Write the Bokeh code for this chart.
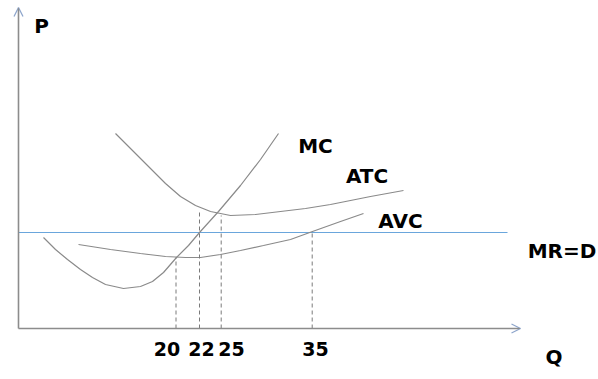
from bokeh.plotting import figure
from bokeh.models import Range1d, Arrow, OpenHead
from bokeh.core.properties import value
from bokeh.embed import file_html
from bokeh.resources import INLINE

# Schematic data (arbitrary Q-P units, origin at axis corner)
mc_q = [25, 37, 49, 62, 74, 87, 105, 122, 134, 145, 158, 170, 181, 200, 222, 242, 260]
mc_p = [91, 79, 69, 59, 51, 44, 40, 42, 47, 56, 71, 83, 96, 117, 143, 169, 195]

atc_q = [97, 115, 132, 147, 162, 177, 192, 212, 237, 262, 287, 312, 332, 352, 385]
atc_p = [195, 177, 160, 145, 132, 123, 117, 113, 114, 117, 120, 124, 128, 132, 138]

avc_q = [60, 92, 122, 147, 167, 182, 202, 222, 245, 272, 294, 322, 345]
avc_p = [84, 79, 75, 72, 71, 71, 74, 78, 83, 89, 97, 107, 115]

mr_q = [0, 489]
mr_p = [96, 96]

mark_q = [157.5, 181, 202.7, 293.7]
mark_top = [71, 118, 113, 96]
mark_labels = ["20", "22", "25", "35"]
mark_label_q = [148.5, 183, 213, 297]

curve_labels = ["MC", "ATC", "AVC", "MR=D"]
curve_label_q = [297, 348.5, 382, 543.5]
curve_label_p = [182.5, 152.5, 107.5, 78]

axis_labels = ["P", "Q"]
axis_label_q = [23, 535.5]
axis_label_p = [302.5, -28.5]

p = figure(width=598, height=379, output_backend="svg", toolbar_location=None,
           x_range=Range1d(-18, 580), y_range=Range1d(-51, 328),
           min_border=0, outline_line_color=None)
p.axis.visible = False
p.grid.visible = False
p.background_fill_color = "white"

curve_color = "#8a8a8a"
p.line(mr_q, mr_p, line_color="#6aa6dc", line_width=1.2)
p.line(mc_q, mc_p, line_color=curve_color, line_width=1.2)
p.line(atc_q, atc_p, line_color=curve_color, line_width=1.2)
p.line(avc_q, avc_p, line_color=curve_color, line_width=1.2)

p.segment(x0=mark_q, y0=[0] * len(mark_q), x1=mark_q, y1=mark_top,
          line_color="#7a7a7a", line_width=1, line_dash="4 3")

# axes with open arrowheads
p.add_layout(Arrow(end=OpenHead(size=9, line_color="#8ea6cc", line_width=1.3),
                   x_start=0, y_start=0, x_end=0, y_end=321,
                   line_color="#8c8c8c", line_width=1.6))
p.add_layout(Arrow(end=OpenHead(size=9, line_color="#8ea6cc", line_width=1.3),
                   x_start=0, y_start=0, x_end=502, y_end=0,
                   line_color="#8c8c8c", line_width=1.6))

font = value("DejaVu Sans")
p.text(x=mark_label_q, y=[-20.5] * len(mark_label_q), text=mark_labels,
       text_font=font, text_font_style="bold", text_font_size="19px",
       text_align="center", text_baseline="middle", text_color="black")
p.text(x=curve_label_q, y=curve_label_p, text=curve_labels,
       text_font=font, text_font_style="bold", text_font_size="20px",
       text_align="center", text_baseline="middle", text_color="black")
p.text(x=axis_label_q, y=axis_label_p, text=axis_labels,
       text_font=font, text_font_style="bold", text_font_size="20px",
       text_align="center", text_baseline="middle", text_color="black")

open("out.html", "w").write(file_html(p, INLINE))
